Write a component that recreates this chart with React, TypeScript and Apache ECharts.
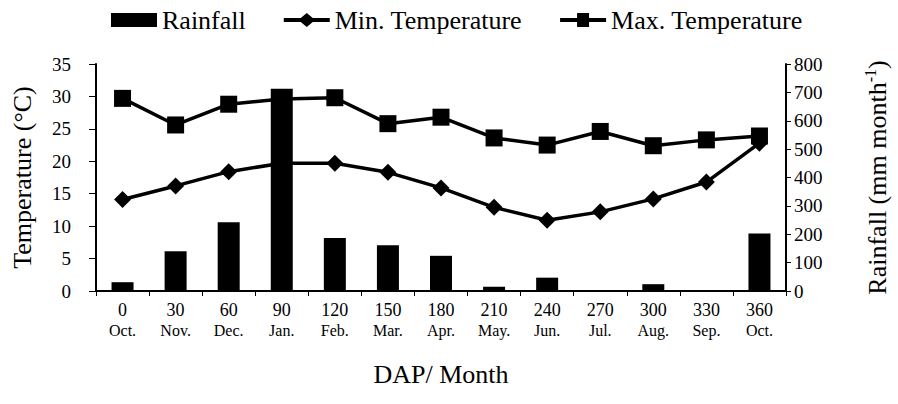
import React, { useEffect, useRef } from "react";
import * as echarts from "echarts";

const dap = ["0", "30", "60", "90", "120", "150", "180", "210", "240", "270", "300", "330", "360"];
const months = ["Oct.", "Nov.", "Dec.", "Jan.", "Feb.", "Mar.", "Apr.", "May.", "Jun.", "Jul.", "Aug.", "Sep.", "Oct."];
const rainfall = [31, 140, 242, 713, 187, 161, 124, 15, 47, 0, 24, 0, 203];
const minTemp = [14.1, 16.2, 18.4, 19.7, 19.7, 18.3, 15.9, 12.9, 10.9, 12.2, 14.2, 16.8, 22.8];
const maxTemp = [29.7, 25.6, 28.8, 29.6, 29.8, 25.8, 26.8, 23.6, 22.5, 24.6, 22.4, 23.3, 23.9];

const FONT = "'Liberation Serif', 'Times New Roman', serif";

const MIN_ICON = "path://M0,5 L17,5 L23,0 L29,5 L46,5 L46,9 L29,9 L23,14 L17,9 L0,9 Z";
const MAX_ICON = "path://M0,5 L17,5 L17,0 L29,0 L29,5 L46,5 L46,9 L29,9 L29,14 L17,14 L17,9 L0,9 Z";

export default function App() {
  const ref = useRef<HTMLDivElement>(null);
  useEffect(() => {
    if (!ref.current) return;
    const chart = echarts.init(ref.current, null, { renderer: "svg" });
    const axisLine = { show: true, lineStyle: { color: "#000", width: 2 } };
    chart.setOption({
      animation: false,
      textStyle: { fontFamily: FONT, color: "#000" },
      legend: {
        top: 2,
        left: 106,
        itemWidth: 46,
        itemHeight: 14,
        itemGap: 38,
        textStyle: { fontFamily: FONT, fontSize: 26, color: "#000" },
        data: [
          { name: "Rainfall", icon: "rect" },
          { name: "Min. Temperature", icon: MIN_ICON },
          { name: "Max. Temperature", icon: MAX_ICON },
        ],
      },
      grid: { left: 96, right: 87, top: 64, bottom: 113 },
      xAxis: {
        type: "category",
        data: dap,
        boundaryGap: true,
        axisLine,
        axisTick: { show: true, length: 5, lineStyle: { color: "#000", width: 1 } },
        axisLabel: {
          margin: 8,
          interval: 0,
          formatter: (v: string, i: number) => `{n|${v}}\n{m|${months[i]}}`,
          rich: {
            n: { fontFamily: FONT, fontSize: 18, color: "#000", lineHeight: 21 },
            m: { fontFamily: FONT, fontSize: 16, color: "#000", lineHeight: 21 },
          },
        },
        name: "DAP/ Month",
        nameLocation: "middle",
        nameGap: 70,
        nameTextStyle: { fontFamily: FONT, fontSize: 26, color: "#000" },
      },
      yAxis: [
        {
          type: "value",
          min: 0,
          max: 35,
          interval: 5,
          splitLine: { show: false },
          axisLine,
          axisTick: { show: true, length: 7, lineStyle: { color: "#000", width: 1 } },
          axisLabel: { margin: 25, fontFamily: FONT, fontSize: 19, color: "#000" },
          name: "Temperature (°C)",
          nameLocation: "middle",
          nameRotate: 90,
          nameGap: 61,
          nameTextStyle: { fontFamily: FONT, fontSize: 26, color: "#000" },
        },
        {
          type: "value",
          min: 0,
          max: 800,
          interval: 100,
          position: "right",
          splitLine: { show: false },
          axisLine,
          axisTick: { show: true, length: 5, lineStyle: { color: "#000", width: 1 } },
          axisLabel: { margin: 8, fontFamily: FONT, fontSize: 19, color: "#000" },
          name: "{a|Rainfall (mm month}{s|-1}{a|)}",
          nameLocation: "middle",
          nameRotate: 90,
          nameGap: 76,
          nameTextStyle: {
            rich: {
              a: { fontFamily: FONT, fontSize: 26, color: "#000", lineHeight: 28, verticalAlign: "bottom" },
              s: { fontFamily: FONT, fontSize: 16, color: "#000", lineHeight: 28, verticalAlign: "top" },
            },
          },
        },
      ],
      series: [
        {
          name: "Rainfall",
          type: "bar",
          yAxisIndex: 1,
          data: rainfall,
          barWidth: 22,
          itemStyle: { color: "#000" },
          z: 3,
        },
        {
          name: "Min. Temperature",
          type: "line",
          yAxisIndex: 0,
          data: minTemp,
          symbol: "diamond",
          symbolSize: 17,
          lineStyle: { color: "#000", width: 3.5 },
          itemStyle: { color: "#000" },
          z: 2,
        },
        {
          name: "Max. Temperature",
          type: "line",
          yAxisIndex: 0,
          data: maxTemp,
          symbol: "rect",
          symbolSize: 17,
          lineStyle: { color: "#000", width: 3.5 },
          itemStyle: { color: "#000" },
          z: 2,
        },
      ],
    });
    return () => chart.dispose();
  }, []);
  return (
    <div
      ref={ref}
      style={{ position: "fixed", left: 0, top: 0, width: 898, height: 404, background: "#fff" }}
    />
  );
}
